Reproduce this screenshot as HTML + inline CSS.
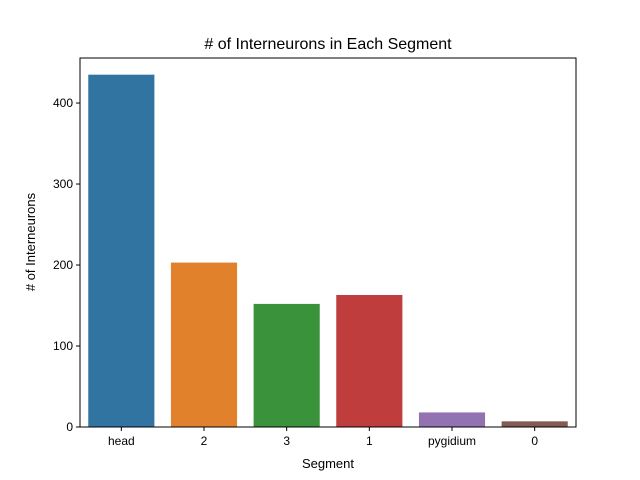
<!DOCTYPE html>
<html><head><meta charset="utf-8"><style>
body{margin:0;background:#fff;}
svg{display:block;font-family:"Liberation Sans","DejaVu Sans",sans-serif;}
</style></head><body>
<svg id="chart" width="640" height="480">
<text x="328" y="49" text-anchor="middle" font-size="16"># of Interneurons in Each Segment</text>
<text x="328" y="468" text-anchor="middle" font-size="13">Segment</text>
<text transform="translate(35,242) rotate(-90)" text-anchor="middle" font-size="13"># of Interneurons</text>
<g id="marks"></g>
<rect x="80" y="58" width="496" height="369" fill="none" stroke="#000" stroke-width="1"/>
</svg>
<script>
const categories = ["head","2","3","1","pygidium","0"];
const values = [435,203,152,163,18,7];
const colors = ["#3274a1","#e1812c","#3a923a","#c03d3e","#9372b2","#845b53"];
const yTicks = [0,100,200,300,400];
const L=80,R=576,T=58,B=427,YMAX=455.6;
const ns="http://www.w3.org/2000/svg";
const g=document.getElementById('marks');
function y(v){return B-(v/YMAX)*(B-T);}
const step=(R-L)/categories.length;
function xc(i){return L+step*(i+0.5);}
function mk(tag,attrs){const e=document.createElementNS(ns,tag);for(const k in attrs)e.setAttribute(k,attrs[k]);g.appendChild(e);return e;}
values.forEach((v,i)=>{
  const r=mk('rect',{x:xc(i)-step*0.4,y:y(v),width:step*0.8,height:B-y(v),fill:colors[i]});
  
  
  const t=mk('line',{x1:xc(i),x2:xc(i),y1:B,y2:B+4,stroke:'#000'});
  
  
  const l=mk('text',{x:xc(i),y:B+18,'text-anchor':'middle','font-size':12});
  l.textContent=categories[i];
  
  
});
yTicks.forEach(v=>{
  const t=mk('line',{x1:L-4,x2:L,y1:y(v),y2:y(v),stroke:'#000'});
  
  
  const l=mk('text',{x:L-7,y:y(v)+4,'text-anchor':'end','font-size':12});
  l.textContent=v;
  
  
});
</script>
</body></html>
